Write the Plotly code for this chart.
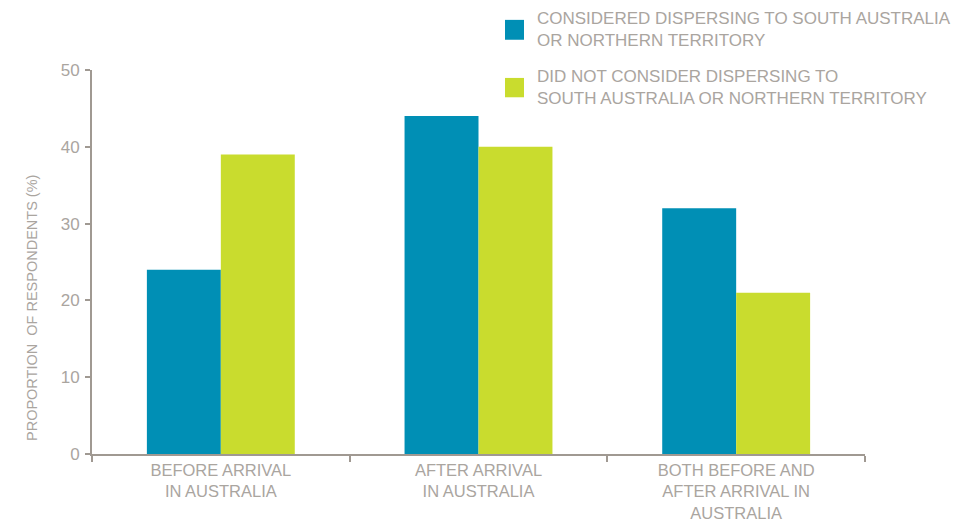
import plotly.graph_objects as go

categories = ["BEFORE ARRIVAL<br>IN AUSTRALIA",
              "AFTER ARRIVAL<br>IN AUSTRALIA",
              "BOTH BEFORE AND<br>AFTER ARRIVAL IN<br>AUSTRALIA"]
series_names = ["CONSIDERED DISPERSING TO SOUTH AUSTRALIA<br>OR NORTHERN TERRITORY",
                "DID NOT CONSIDER DISPERSING TO<br>SOUTH AUSTRALIA OR NORTHERN TERRITORY"]
considered = [24, 44, 32]
not_considered = [39, 40, 21]
y_ticks = [0, 10, 20, 30, 40, 50]
y_title = "PROPORTION  OF RESPONDENTS (%)"

colors = ["#008FB5", "#C9DC2E"]
text_color = "#AAA59F"
axis_color = "#A09992"
font_family = "Liberation Sans"

fig = go.Figure()
for name, vals, col in zip(series_names, [considered, not_considered], colors):
    fig.add_trace(go.Bar(x=categories, y=vals, name=name, marker_color=col,
                         marker_line_width=0, showlegend=False))

# Legend drawn as swatches + labels at top right
legend_rows = [(0.962, 0.924), (0.851, 0.814)]
for (name, col, (y_top, y_bot)) in zip(series_names, colors, legend_rows):
    fig.add_shape(type="rect", xref="paper", yref="paper",
                  x0=(505 - 92) / 773, x1=(524 - 92) / 773,
                  y0=(y_bot * 523 - 69) / 384, y1=(y_top * 523 - 69) / 384,
                  fillcolor=col, line_width=0)
    fig.add_annotation(text=name, xref="paper", yref="paper",
                       x=(535 - 92) / 773, y=((y_top + y_bot) / 2 * 523 - 69) / 384,
                       xanchor="left", yanchor="middle", align="left", showarrow=False,
                       font=dict(family=font_family, size=17, color=text_color))

# Rotated y-axis title, set slightly below the plot's vertical centre
fig.add_annotation(text=y_title, xref="paper", yref="paper",
                   x=(32 - 92) / 773, y=(454 - 308) / 384, textangle=-90,
                   xanchor="center", yanchor="middle", showarrow=False,
                   font=dict(family=font_family, size=14.5, color=text_color))

fig.update_layout(
    width=975, height=523,
    margin=dict(l=92, r=110, t=70, b=69, autoexpand=False),
    paper_bgcolor="white", plot_bgcolor="white",
    barmode="group", bargap=0.426, bargroupgap=0,
    font=dict(family=font_family, color=text_color, size=16),
)
fig.update_xaxes(
    automargin=False,
    showline=True, linecolor=axis_color, linewidth=2,
    ticks="outside", tickson="boundaries", ticklen=6, tickcolor=axis_color, tickwidth=2,
    tickfont=dict(family=font_family, size=16.5, color=text_color),
    ticklabelstandoff=0,
    showgrid=False,
)
fig.update_yaxes(
    automargin=False,
    range=[0, 50], tickvals=y_ticks,
    showline=True, linecolor=axis_color, linewidth=2,
    ticks="outside", ticklen=5, tickcolor=axis_color, tickwidth=2,
    tickfont=dict(family=font_family, size=17, color=text_color),
    ticklabelstandoff=2,
    showgrid=False, zeroline=False,
)

fig.write_html("out.html")
